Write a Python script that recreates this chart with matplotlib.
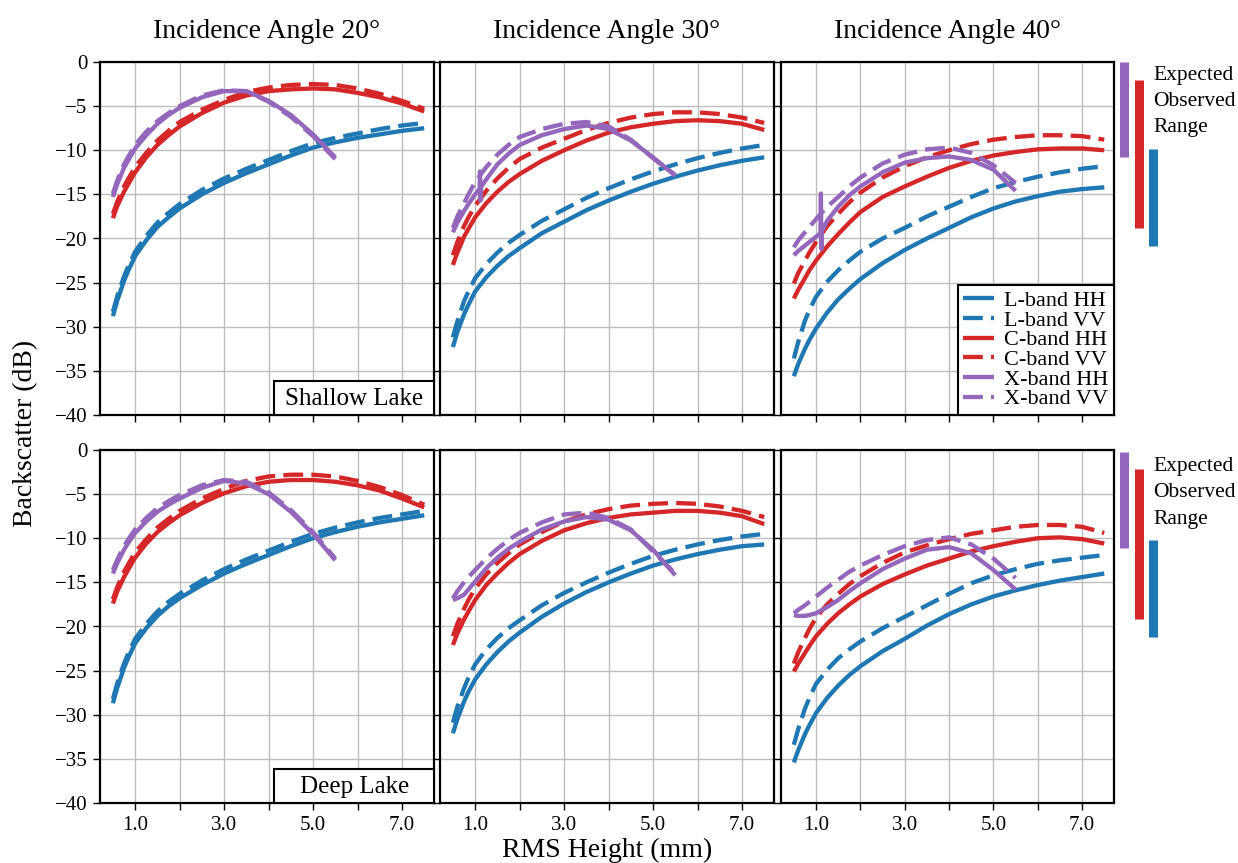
import matplotlib
matplotlib.use("Agg")
import matplotlib.pyplot as plt
from matplotlib.patches import Rectangle

plt.rcParams['font.family'] = ['Liberation Serif', 'DejaVu Serif']

# RMS height sample points (mm)
rms_height = [0.5, 0.6, 0.75, 0.85, 1.0, 1.25, 1.5, 1.75, 2.0, 2.5, 3.0, 3.5,
              4.0, 4.5, 5.0, 5.5, 6.0, 6.5, 7.0, 7.5]
rms_height_x = rms_height[:16]
# X-band HH runs that contain a short numerical glitch near 1.1 mm
rms_height_glitch = [0.5, 0.6, 0.75, 0.85, 1.0, 1.1, 1.11, 1.12, 1.13, 1.25, 1.5, 1.75,
                     2.0, 2.5, 3.0, 3.5, 4.0, 4.5, 5.0, 5.5]

angles = [20, 30, 40]
lake_names = ["Shallow Lake", "Deep Lake"]
series_labels = ["L-band HH", "L-band VV", "C-band HH", "C-band VV", "X-band HH", "X-band VV"]

# ---- Shallow lake, 20 deg
s20_L_HH = [-28.8, -27.0, -24.8, -23.6, -22.0, -20.2, -18.7, -17.6, -16.6, -15.0, -13.7, -12.6, -11.6, -10.6, -9.7, -9.1, -8.6, -8.2, -7.8, -7.5]
s20_L_VV = [-28.3, -26.5, -24.3, -23.1, -21.5, -19.7, -18.2, -17.1, -16.1, -14.5, -13.2, -12.1, -11.1, -10.1, -9.2, -8.6, -8.1, -7.6, -7.2, -6.9]
s20_C_HH = [-17.7, -16.3, -14.7, -13.8, -12.5, -10.8, -9.4, -8.3, -7.3, -5.8, -4.6, -3.8, -3.3, -3.1, -3.0, -3.1, -3.5, -4.0, -4.7, -5.6]
s20_C_VV = [-17.2, -15.8, -14.1, -13.2, -11.9, -10.3, -8.9, -7.8, -6.8, -5.4, -4.3, -3.4, -2.9, -2.6, -2.5, -2.6, -3.0, -3.6, -4.4, -5.3]
s20_X_HH = [-15.3, -13.8, -12.0, -11.1, -9.8, -8.3, -7.0, -6.0, -5.2, -4.0, -3.3, -3.3, -4.4, -6.0, -8.2, -10.8]
s20_X_VV = [-14.9, -13.4, -11.6, -10.7, -9.4, -7.9, -6.7, -5.8, -5.0, -3.8, -3.2, -3.3, -4.5, -6.2, -8.4, -11.0]

# ---- Shallow lake, 30 deg
s30_L_HH = [-32.3, -30.6, -28.6, -27.5, -26.0, -24.4, -23.1, -22.0, -21.1, -19.4, -18.1, -16.8, -15.7, -14.7, -13.8, -13.0, -12.3, -11.7, -11.2, -10.8]
s30_L_VV = [-31.2, -29.4, -27.1, -26.0, -24.5, -22.9, -21.6, -20.5, -19.6, -18.0, -16.7, -15.4, -14.3, -13.3, -12.4, -11.6, -10.9, -10.3, -9.8, -9.4]
s30_C_HH = [-23.0, -21.6, -19.8, -18.9, -17.6, -16.0, -14.7, -13.6, -12.7, -11.2, -10.0, -8.9, -8.0, -7.4, -7.0, -6.7, -6.6, -6.7, -7.0, -7.7]
s30_C_VV = [-21.9, -20.4, -18.6, -17.6, -16.3, -14.6, -13.2, -12.0, -11.0, -9.7, -8.7, -7.7, -6.9, -6.3, -5.9, -5.7, -5.7, -5.9, -6.3, -6.9]
s30_X_HH = [-19.3, -18.2, -16.9, -16.1, -15.0, -14.4, -12.4, -15.7, -14.2, -13.3, -11.6, -10.4, -9.4, -8.3, -7.6, -7.2, -7.6, -8.9, -10.8, -12.9]
s30_X_VV = [-18.8, -17.5, -16.0, -15.0, -13.6, -11.9, -10.5, -9.4, -8.5, -7.6, -7.0, -6.8, -7.3, -8.8, -10.9, -12.8]

# ---- Shallow lake, 40 deg
s40_L_HH = [-35.6, -34.2, -32.5, -31.5, -30.2, -28.4, -26.9, -25.7, -24.6, -22.8, -21.3, -20.0, -18.8, -17.6, -16.6, -15.8, -15.2, -14.7, -14.4, -14.2]
s40_L_VV = [-33.6, -31.7, -29.3, -28.1, -26.6, -24.9, -23.6, -22.5, -21.5, -20.0, -18.8, -17.5, -16.4, -15.3, -14.3, -13.6, -13.0, -12.5, -12.1, -11.8]
s40_C_HH = [-26.8, -25.8, -24.5, -23.6, -22.5, -20.9, -19.5, -18.2, -17.0, -15.3, -14.1, -13.0, -12.0, -11.2, -10.6, -10.2, -9.9, -9.8, -9.8, -10.0]
s40_C_VV = [-25.1, -23.9, -22.5, -21.6, -20.4, -18.6, -17.2, -15.9, -14.8, -13.1, -11.8, -10.8, -10.0, -9.3, -8.8, -8.5, -8.3, -8.3, -8.4, -8.8]
s40_X_HH = [-21.9, -21.4, -20.8, -20.4, -19.8, -19.4, -14.9, -21.2, -19.2, -18.0, -16.4, -15.1, -14.1, -12.5, -11.4, -10.9, -10.7, -11.1, -12.2, -14.6]
s40_X_VV = [-21.0, -20.2, -19.3, -18.7, -17.8, -16.4, -15.3, -14.1, -13.1, -11.5, -10.5, -9.9, -9.7, -10.3, -11.7, -13.7]

# ---- Deep lake, 20 deg
d20_L_HH = [-28.7, -26.9, -24.7, -23.5, -21.9, -20.2, -18.8, -17.7, -16.8, -15.3, -14.0, -12.9, -11.9, -10.9, -10.0, -9.3, -8.7, -8.2, -7.8, -7.4]
d20_L_VV = [-28.2, -26.4, -24.2, -23.0, -21.4, -19.7, -18.3, -17.2, -16.3, -14.8, -13.5, -12.4, -11.4, -10.4, -9.5, -8.8, -8.2, -7.7, -7.3, -6.9]
d20_C_HH = [-17.4, -16.0, -14.4, -13.5, -12.2, -10.6, -9.3, -8.3, -7.4, -6.0, -4.9, -4.1, -3.6, -3.4, -3.4, -3.6, -4.0, -4.6, -5.5, -6.5]
d20_C_VV = [-16.9, -15.5, -13.8, -12.9, -11.6, -10.1, -8.8, -7.8, -6.9, -5.5, -4.4, -3.5, -3.0, -2.8, -2.8, -3.0, -3.5, -4.2, -5.1, -6.2]
d20_X_HH = [-14.0, -12.8, -11.3, -10.5, -9.4, -8.1, -7.0, -6.2, -5.5, -4.3, -3.5, -3.8, -5.0, -7.0, -9.5, -12.5]
d20_X_VV = [-13.6, -12.4, -10.9, -10.1, -9.0, -7.7, -6.6, -5.8, -5.1, -4.0, -3.4, -3.6, -4.8, -6.8, -9.3, -12.3]

# ---- Deep lake, 30 deg
d30_L_HH = [-32.1, -30.5, -28.5, -27.4, -26.0, -24.3, -22.9, -21.7, -20.7, -18.9, -17.4, -16.1, -15.0, -14.0, -13.1, -12.4, -11.8, -11.3, -10.9, -10.7]
d30_L_VV = [-30.9, -29.1, -27.0, -25.8, -24.3, -22.6, -21.3, -20.2, -19.3, -17.6, -16.2, -15.0, -13.9, -12.9, -12.0, -11.3, -10.7, -10.2, -9.8, -9.5]
d30_C_HH = [-22.1, -20.8, -19.2, -18.3, -17.0, -15.3, -14.0, -12.8, -11.8, -10.3, -9.1, -8.3, -7.7, -7.3, -7.1, -6.9, -6.9, -7.1, -7.5, -8.4]
d30_C_VV = [-21.1, -19.7, -18.0, -17.0, -15.7, -14.1, -12.8, -11.7, -10.7, -9.3, -8.1, -7.3, -6.7, -6.3, -6.1, -6.0, -6.1, -6.4, -6.9, -7.6]
d30_X_HH = [-17.0, -16.8, -16.4, -15.8, -14.9, -13.4, -12.2, -11.2, -10.4, -9.0, -8.1, -7.6, -7.9, -9.1, -11.3, -14.2]
d30_X_VV = [-16.8, -16.0, -15.0, -14.4, -13.6, -12.3, -11.2, -10.2, -9.4, -8.2, -7.3, -7.1, -7.7, -9.0, -11.5, -14.0]

# ---- Deep lake, 40 deg
d40_L_HH = [-35.4, -34.0, -32.2, -31.2, -29.8, -28.1, -26.7, -25.5, -24.5, -22.8, -21.4, -19.9, -18.6, -17.5, -16.6, -15.9, -15.3, -14.8, -14.4, -14.0]
d40_L_VV = [-33.4, -31.6, -29.3, -28.1, -26.5, -24.9, -23.6, -22.6, -21.7, -20.2, -18.9, -17.6, -16.3, -15.1, -14.2, -13.5, -12.9, -12.5, -12.2, -11.9]
d40_C_HH = [-25.1, -24.2, -23.0, -22.2, -21.1, -19.7, -18.5, -17.5, -16.6, -15.2, -14.1, -13.1, -12.3, -11.5, -10.9, -10.4, -10.0, -9.9, -10.1, -10.6]
d40_C_VV = [-24.2, -22.9, -21.3, -20.3, -19.0, -17.5, -16.3, -15.2, -14.3, -12.8, -11.6, -10.8, -10.1, -9.5, -9.1, -8.7, -8.5, -8.5, -8.7, -9.4]
d40_X_HH = [-18.7, -18.8, -18.8, -18.7, -18.5, -17.8, -17.0, -16.0, -15.1, -13.5, -12.3, -11.3, -11.0, -11.7, -13.6, -15.8]
d40_X_VV = [-18.5, -18.1, -17.6, -17.2, -16.6, -15.6, -14.7, -13.8, -13.1, -11.9, -10.9, -10.2, -9.9, -10.7, -12.3, -14.5]

# Expected observed backscatter ranges (dB): [top, bottom] for X, C, L bands
shallow_range_X = [0.0, -10.8]
shallow_range_C = [-2.0, -18.8]
shallow_range_L = [-9.9, -20.9]
deep_range_X = [-0.2, -11.1]
deep_range_C = [-2.2, -19.1]
deep_range_L = [-10.2, -21.2]

BLUE, RED, PURPLE = "#1f77b4", "#d62728", "#9467bd"

panels = {
    (0, 0): [(rms_height, s20_L_HH), (rms_height, s20_L_VV), (rms_height, s20_C_HH),
             (rms_height, s20_C_VV), (rms_height_x, s20_X_HH), (rms_height_x, s20_X_VV)],
    (0, 1): [(rms_height, s30_L_HH), (rms_height, s30_L_VV), (rms_height, s30_C_HH),
             (rms_height, s30_C_VV), (rms_height_glitch, s30_X_HH), (rms_height_x, s30_X_VV)],
    (0, 2): [(rms_height, s40_L_HH), (rms_height, s40_L_VV), (rms_height, s40_C_HH),
             (rms_height, s40_C_VV), (rms_height_glitch, s40_X_HH), (rms_height_x, s40_X_VV)],
    (1, 0): [(rms_height, d20_L_HH), (rms_height, d20_L_VV), (rms_height, d20_C_HH),
             (rms_height, d20_C_VV), (rms_height_x, d20_X_HH), (rms_height_x, d20_X_VV)],
    (1, 1): [(rms_height, d30_L_HH), (rms_height, d30_L_VV), (rms_height, d30_C_HH),
             (rms_height, d30_C_VV), (rms_height_x, d30_X_HH), (rms_height_x, d30_X_VV)],
    (1, 2): [(rms_height, d40_L_HH), (rms_height, d40_L_VV), (rms_height, d40_C_HH),
             (rms_height, d40_C_VV), (rms_height_x, d40_X_HH), (rms_height_x, d40_X_VV)],
}
styles = [(BLUE, "-"), (BLUE, "--"), (RED, "-"), (RED, "--"), (PURPLE, "-"), (PURPLE, "--")]

W, H = 1238, 863
fig = plt.figure(figsize=(W / 100, H / 100), dpi=100)

col_lr = [(100, 434), (440, 774), (781, 1114)]
row_tb = [(62, 415), (450, 803)]

for r, (top, bot) in enumerate(row_tb):
    for c, (lft, rgt) in enumerate(col_lr):
        ax = fig.add_axes([lft / W, 1 - bot / H, (rgt - lft) / W, (bot - top) / H])
        lines = []
        for (xs, ys), (colr, ls), lab in zip(panels[(r, c)], styles, series_labels):
            ln, = ax.plot(xs, ys, color=colr, lw=3.1, ls=ls, label=lab,
                          solid_capstyle='butt', dash_capstyle='butt',
                          solid_joinstyle='round')
            if ls == "--":
                ln.set_dashes((4.6, 1.9))
            lines.append(ln)
        ax.set_xlim(0.21, 7.72)
        ax.set_ylim(-40, 0)
        ax.set_xticks(range(1, 8))
        ax.set_yticks(range(-40, 1, 5))
        if r == 1:
            ax.set_xticklabels(["1.0", "", "3.0", "", "5.0", "", "7.0"])
        else:
            ax.set_xticklabels([])
        if c != 0:
            ax.set_yticklabels([])
        ax.grid(True, color="#bdbdbd", lw=1.0)
        ax.set_axisbelow(True)
        for sp in ax.spines.values():
            sp.set_linewidth(1.6)
        ax.tick_params(direction="out", length=5, width=1.0, labelsize=15, pad=4)

        if c == 0:
            ax.add_patch(Rectangle((0.521, 0.0), 0.479, 0.096, transform=ax.transAxes,
                                   facecolor="white", edgecolor="black", lw=1.5, zorder=5,
                                   clip_on=False))
            ax.text(0.762, 0.046, lake_names[r], transform=ax.transAxes, ha="center",
                    va="center", fontsize=18, zorder=6)

        if c == 2:
            if r == 0:
                rngs = [shallow_range_X, shallow_range_C, shallow_range_L]
            else:
                rngs = [deep_range_X, deep_range_C, deep_range_L]
            trans = ax.get_yaxis_transform()
            for xpos, colr, rg in zip([1.030, 1.075, 1.117], [PURPLE, RED, BLUE], rngs):
                ax.plot([xpos, xpos], rg, color=colr, lw=6.5, transform=trans,
                        clip_on=False, solid_capstyle="butt")
            ax.text(1.117, 0.99 if r == 0 else 0.98, "Expected\nObserved\nRange",
                    transform=ax.transAxes, ha="left", va="top", fontsize=15.5,
                    linespacing=1.53)
            if r == 0:
                leg = ax.legend(handles=lines, loc="lower right", fontsize=16,
                                frameon=True, fancybox=False, edgecolor="black",
                                framealpha=1, borderaxespad=0, labelspacing=-0.04,
                                handlelength=1.4, handletextpad=0.45, borderpad=0.25)
                leg.get_frame().set_linewidth(1.5)

for c, ang in enumerate(angles):
    lft, rgt = col_lr[c]
    fig.text((lft + rgt) / 2 / W, 1 - 38 / H, f"Incidence Angle {ang}°",
             ha="center", va="baseline", fontsize=20)

fig.text(26 / W, 1 - 433 / H, "Backscatter (dB)", rotation=90, ha="center",
         va="center", fontsize=20)
fig.text(607 / W, 1 - 857 / H, "RMS Height (mm)", ha="center", va="baseline",
         fontsize=20)

fig.savefig("out.png", dpi=100)
